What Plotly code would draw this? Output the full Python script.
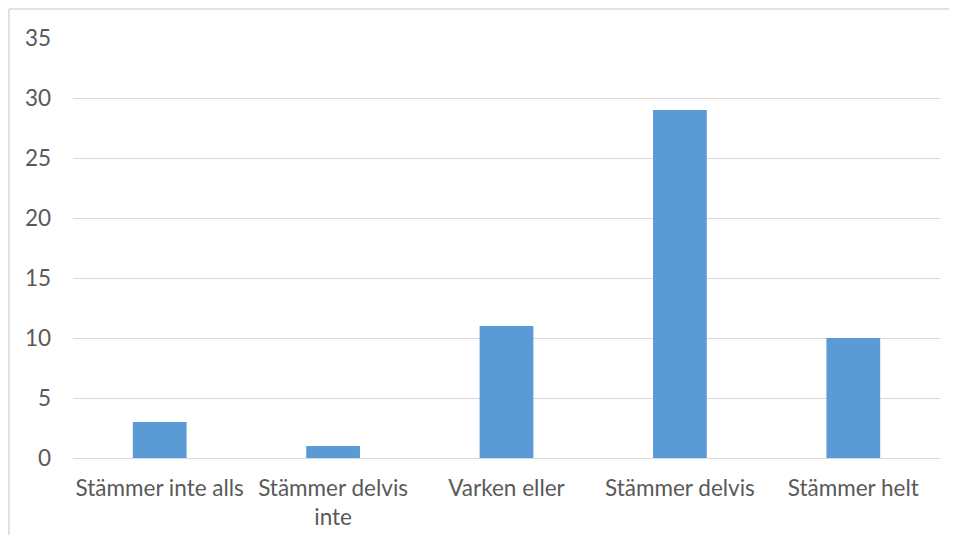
import plotly.graph_objects as go

categories = ["Stämmer inte alls", "Stämmer delvis<br>inte", "Varken eller", "Stämmer delvis", "Stämmer helt"]
values = [3, 1, 11, 29, 10]
y_ticks = [0, 5, 10, 15, 20, 25, 30, 35]

# page has an 8px body margin; keep figure inside viewport
W, H = 941, 527
L, R, T, B = 65, 9, 30, 77
pw, ph = W - L - R, H - T - B

FONT = "Lato, Open Sans, sans-serif"
FS = 22.5

fig = go.Figure(go.Bar(x=categories, y=values, marker=dict(color="#5B9BD5", line=dict(width=0)),
                       hoverinfo="x+y"))

bx = (1 - L) / pw
by = 1 + (T - 1) / ph
fig.update_layout(
    width=W, height=H,
    margin=dict(l=L, r=R, t=T, b=B, pad=0, autoexpand=False),
    paper_bgcolor="white", plot_bgcolor="white",
    bargap=0.69,
    showlegend=False,
    font=dict(family=FONT, size=FS, color="#595959"),
    xaxis=dict(showgrid=False, showline=False, ticks="", automargin=False,
               tickfont=dict(family=FONT, size=FS, color="#595959"), ticklabelstandoff=14),
    yaxis=dict(range=[0, 35], tickvals=y_ticks, showgrid=True, gridcolor="#d9d9d9", gridwidth=1.3,
               zeroline=True, zerolinecolor="#d9d9d9", zerolinewidth=1.3, showline=False, ticks="",
               automargin=False, tickfont=dict(family=FONT, size=FS, color="#595959"), ticklabelstandoff=21),
    shapes=[
        dict(type="line", xref="paper", yref="paper", x0=bx, x1=1 + R / pw, y0=by, y1=by,
             line=dict(color="#d9d9d9", width=1.5), layer="below"),
        dict(type="line", xref="paper", yref="paper", x0=bx, x1=bx, y0=by, y1=-B / ph,
             line=dict(color="#d9d9d9", width=1.5), layer="below"),
    ],
)

fig.write_html("out.html")
